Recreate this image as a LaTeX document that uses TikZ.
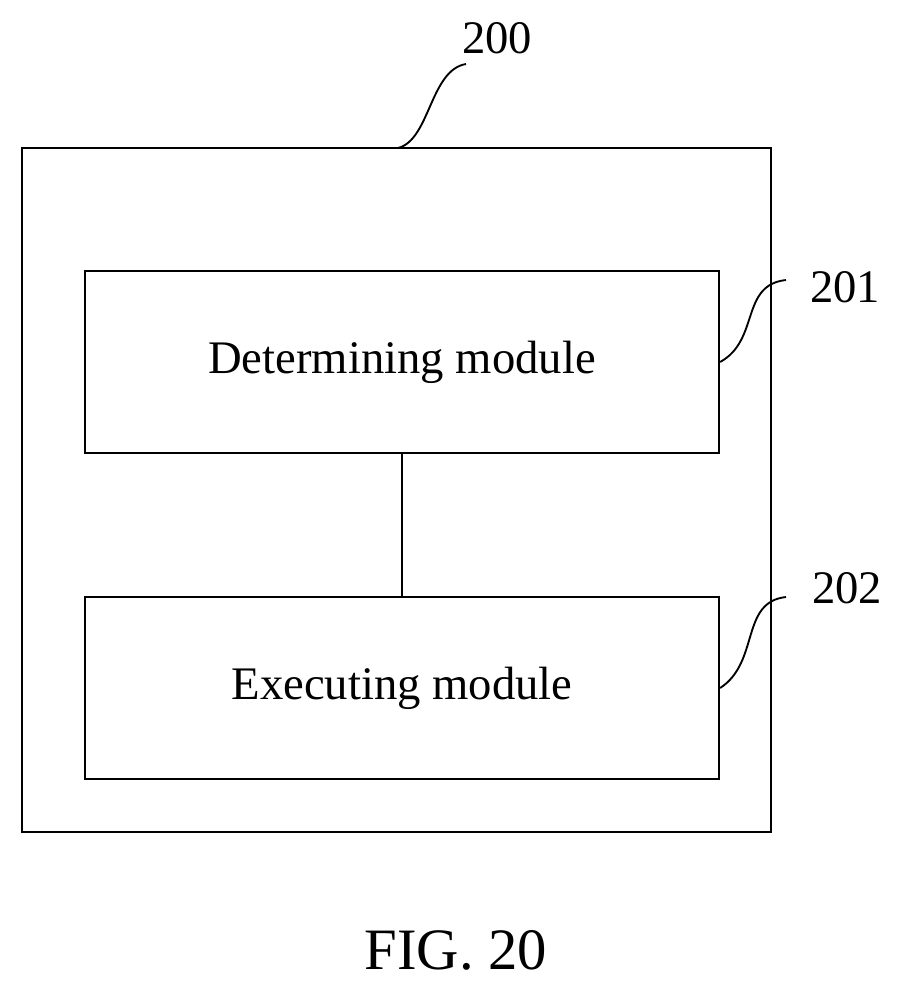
\documentclass[tikz,border=0pt]{standalone}
\usepackage{fontspec}
\setmainfont{Liberation Serif}
\begin{document}
\begin{tikzpicture}[x=0.75pt,y=-0.75pt,line width=1.7pt,
  box/.style={draw,minimum width=0.75*634pt,minimum height=0.75*182pt,font=\fontsize{35}{40}\selectfont,inner sep=0pt},
  lab/.style={font=\fontsize{35}{40}\selectfont,inner sep=0pt},
  lead/.style={line width=1.4pt}]
\useasboundingbox (0,0) rectangle (901,990);
\draw (22,148) rectangle (771,832);
\node[box] (b1) at (402,362) {Determining module};
\node[box] (b2) at (402,688) {Executing module};
\draw (b1.south) -- (b2.south |- b2.north);
\coordinate (c0) at (398,148);
\coordinate (c0e) at (466,64);
\draw[lead] (c0) .. controls (430,140) and (430,70) .. (c0e);
\node[lab] (l0) at (497,38) {200};
\coordinate (c1e) at (786,280);
\draw[lead] (b1.east) .. controls (760,340) and (740,285) .. (c1e);
\node[lab] (l1) at (845,287) {201};
\coordinate (c2e) at (786,597);
\draw[lead] (b2.east) .. controls (760,662) and (740,602) .. (c2e);
\node[lab] (l2) at (847,588) {202};
\node[font=\fontsize{44}{50}\selectfont,inner sep=0pt] (fig) at (456,950) {FIG. 20};
\end{tikzpicture}
\end{document}
